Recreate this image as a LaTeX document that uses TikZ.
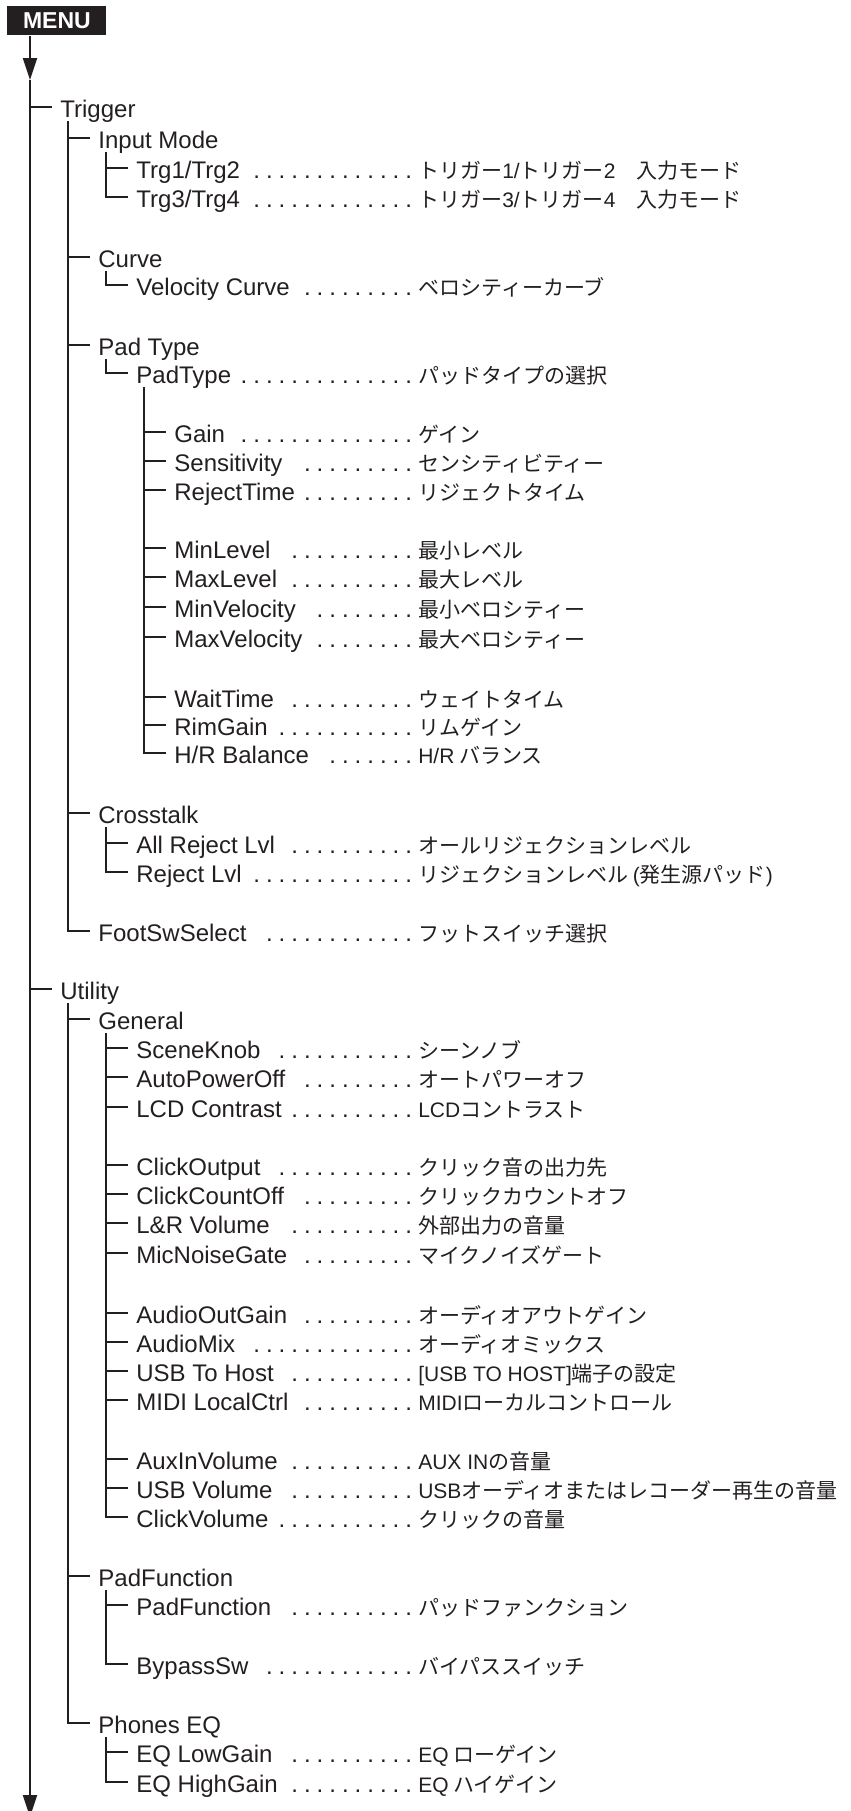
\documentclass[tikz,border=0pt]{standalone}
\usepackage{fontspec}
\setmainfont{Liberation Sans}
\newfontfamily\jpfont{Noto Sans CJK JP}
\newfontfamily\latfont{Liberation Sans}
\usepackage{tikz}
\usetikzlibrary{arrows.meta, positioning}
\definecolor{ink}{RGB}{35,31,32}

% label followed by a dotted leader up to the description column
\newcommand{\leadto}[2]{\hbox to #1{#2\hskip 3pt\leaders\hbox to 6.333pt{\hss.\hss}\hfill}}
\newcommand{\rowtwo}[1]{\leadto{158.33pt}{#1}}
\newcommand{\rowthree}[1]{\leadto{139.33pt}{#1}}
\newcommand{\rowfour}[1]{\leadto{120.33pt}{#1}}
\newcommand{\ltn}[1]{{\latfont #1}}

\begin{document}
\begin{tikzpicture}[
  x=0.5pt, y=-0.5pt,
  node distance=1.2pt,
  entry/.style={anchor=west, inner sep=0pt, text height=11pt,
    text depth=1pt, text=ink, font=\fontsize{12}{14}\selectfont},
  desc/.style={inner sep=0pt, text height=11pt, text depth=1pt,
    text=ink, font=\jpfont\fontsize{10.5}{12}\selectfont},
  menubox/.style={anchor=north west, fill=ink, text=white,
    minimum width=49.5pt, minimum height=14.5pt, inner sep=0pt,
    font=\bfseries\fontsize{11.5}{12}\selectfont},
  branch/.style={draw=ink, line width=0.8pt, shorten >=4pt},
  trunk/.style={draw=ink, line width=0.9pt,
    -{Triangle[width=7pt,length=11pt]}}
]
\useasboundingbox (0,0) rectangle (851,1811);

% Menu head and main line
\node[menubox] (menu) at (7,6) {MENU};
\coordinate (t0) at ([xshift=11.5pt]menu.south west);
\coordinate (tarr) at (30,80);
\coordinate (tend) at (30,1817);
\draw[trunk] (t0) -- (tarr);
\draw[trunk] (tarr) -- (tend);

% Top level
\node[entry] (trig) at (60,107) {Trigger};
\node[entry] (util) at (60,989) {Utility};
\foreach \c in {trig,util}
  \draw[branch] (t0 |- \c.west) -- (\c.west);

% Trigger
\node[entry] (inmode) at (98,138) {Input Mode};
\node[entry] (curve) at (98,257) {Curve};
\node[entry] (ptype) at (98,345) {Pad Type};
\node[entry] (xtalk) at (98,813) {Crosstalk};
\node[entry] (footsw) at (98,931) {\rowtwo{FootSwSelect}};
\node[desc, right=of footsw] {フットスイッチ選択};

\coordinate (vT) at ([xshift=4pt,yshift=-7pt]trig.west);
\draw[branch] (vT) |- (footsw.west);
\foreach \c in {inmode,curve,ptype,xtalk}
  \draw[branch] (vT |- \c.west) -- (\c.west);

% Input Mode
\node[entry] (trgA) at (136,168) {\rowthree{Trg1/Trg2}};
\node[desc, right=of trgA] {トリガー\ltn{1/}トリガー\ltn{2}　入力モード};
\node[entry] (trgB) at (136,197) {\rowthree{Trg3/Trg4}};
\node[desc, right=of trgB] {トリガー\ltn{3/}トリガー\ltn{4}　入力モード};

\coordinate (vI) at ([xshift=4pt,yshift=-7pt]inmode.west);
\draw[branch] (vI) |- (trgB.west);
\draw[branch] (vI |- trgA.west) -- (trgA.west);

% Curve
\node[entry] (velcrv) at (136,285) {\rowthree{Velocity Curve}};
\node[desc, right=of velcrv] {ベロシティーカーブ};
\draw[branch] ([xshift=4pt,yshift=-7pt]curve.west) |- (velcrv.west);

% Pad Type
\node[entry] (padtype) at (136,373) {\rowthree{PadType}};
\node[desc, right=of padtype] {パッドタイプの選択};
\draw[branch] ([xshift=4pt,yshift=-7pt]ptype.west) |- (padtype.west);

\node[entry] (gain) at (174,432) {\rowfour{Gain}};
\node[desc, right=of gain] {ゲイン};
\node[entry] (sens) at (174,461) {\rowfour{Sensitivity}};
\node[desc, right=of sens] {センシティビティー};
\node[entry] (rejtime) at (174,490) {\rowfour{RejectTime}};
\node[desc, right=of rejtime] {リジェクトタイム};
\node[entry] (minlvl) at (174,548) {\rowfour{MinLevel}};
\node[desc, right=of minlvl] {最小レベル};
\node[entry] (maxlvl) at (174,577) {\rowfour{MaxLevel}};
\node[desc, right=of maxlvl] {最大レベル};
\node[entry] (minvel) at (174,607) {\rowfour{MinVelocity}};
\node[desc, right=of minvel] {最小ベロシティー};
\node[entry] (maxvel) at (174,637) {\rowfour{MaxVelocity}};
\node[desc, right=of maxvel] {最大ベロシティー};
\node[entry] (wait) at (174,697) {\rowfour{WaitTime}};
\node[desc, right=of wait] {ウェイトタイム};
\node[entry] (rimgain) at (174,725) {\rowfour{RimGain}};
\node[desc, right=of rimgain] {リムゲイン};
\node[entry] (hrbal) at (174,753) {\rowfour{H/R Balance}};
\node[desc, right=of hrbal] {\ltn{H/R} バランス};

\coordinate (vPT) at ([xshift=4pt,yshift=-7pt]padtype.west);
\draw[branch] (vPT) |- (hrbal.west);
\foreach \c in {gain,sens,rejtime,minlvl,maxlvl,minvel,maxvel,wait,rimgain}
  \draw[branch] (vPT |- \c.west) -- (\c.west);

% Crosstalk
\node[entry] (allrej) at (136,843) {\rowthree{All Reject Lvl}};
\node[desc, right=of allrej] {オールリジェクションレベル};
\node[entry] (rejlvl) at (136,872) {\rowthree{Reject Lvl}};
\node[desc, right=of rejlvl] {リジェクションレベル \ltn{(}発生源パッド\ltn{)}};

\coordinate (vX) at ([xshift=4pt,yshift=-7pt]xtalk.west);
\draw[branch] (vX) |- (rejlvl.west);
\draw[branch] (vX |- allrej.west) -- (allrej.west);

% Utility
\node[entry] (general) at (98,1019) {General};
\node[entry] (padfn) at (98,1576) {PadFunction};
\node[entry] (phones) at (98,1723) {Phones EQ};

\coordinate (vU) at ([xshift=4pt,yshift=-7pt]util.west);
\draw[branch] (vU) |- (phones.west);
\foreach \c in {general,padfn}
  \draw[branch] (vU |- \c.west) -- (\c.west);

% General
\node[entry] (scene) at (136,1048) {\rowthree{SceneKnob}};
\node[desc, right=of scene] {シーンノブ};
\node[entry] (autopwr) at (136,1077) {\rowthree{AutoPowerOff}};
\node[desc, right=of autopwr] {オートパワーオフ};
\node[entry] (lcd) at (136,1107) {\rowthree{LCD Contrast}};
\node[desc, right=of lcd] {\ltn{LCD}コントラスト};
\node[entry] (clkout) at (136,1165) {\rowthree{ClickOutput}};
\node[desc, right=of clkout] {クリック音の出力先};
\node[entry] (clkcnt) at (136,1194) {\rowthree{ClickCountOff}};
\node[desc, right=of clkcnt] {クリックカウントオフ};
\node[entry] (lrvol) at (136,1223) {\rowthree{L\&R Volume}};
\node[desc, right=of lrvol] {外部出力の音量};
\node[entry] (micng) at (136,1253) {\rowthree{MicNoiseGate}};
\node[desc, right=of micng] {マイクノイズゲート};
\node[entry] (aogain) at (136,1313) {\rowthree{AudioOutGain}};
\node[desc, right=of aogain] {オーディオアウトゲイン};
\node[entry] (amix) at (136,1342) {\rowthree{AudioMix}};
\node[desc, right=of amix] {オーディオミックス};
\node[entry] (usbhost) at (136,1371) {\rowthree{USB To Host}};
\node[desc, right=of usbhost] {\ltn{[USB TO HOST]}端子の設定};
\node[entry] (midilc) at (136,1400) {\rowthree{MIDI LocalCtrl}};
\node[desc, right=of midilc] {\ltn{MIDI}ローカルコントロール};
\node[entry] (auxin) at (136,1459) {\rowthree{AuxInVolume}};
\node[desc, right=of auxin] {\ltn{AUX IN}の音量};
\node[entry] (usbvol) at (136,1488) {\rowthree{USB Volume}};
\node[desc, right=of usbvol] {\ltn{USB}オーディオまたはレコーダー再生の音量};
\node[entry] (clkvol) at (136,1517) {\rowthree{ClickVolume}};
\node[desc, right=of clkvol] {クリックの音量};

\coordinate (vG) at ([xshift=4pt,yshift=-7pt]general.west);
\draw[branch] (vG) |- (clkvol.west);
\foreach \c in {scene,autopwr,lcd,clkout,clkcnt,lrvol,micng,aogain,amix,usbhost,midilc,auxin,usbvol}
  \draw[branch] (vG |- \c.west) -- (\c.west);

% PadFunction
\node[entry] (padfnB) at (136,1605) {\rowthree{PadFunction}};
\node[desc, right=of padfnB] {パッドファンクション};
\node[entry] (bypass) at (136,1664) {\rowthree{BypassSw}};
\node[desc, right=of bypass] {バイパススイッチ};

\coordinate (vF) at ([xshift=4pt,yshift=-7pt]padfn.west);
\draw[branch] (vF) |- (bypass.west);
\draw[branch] (vF |- padfnB.west) -- (padfnB.west);

% Phones EQ
\node[entry] (eqlow) at (136,1752) {\rowthree{EQ LowGain}};
\node[desc, right=of eqlow] {\ltn{EQ} ローゲイン};
\node[entry] (eqhigh) at (136,1782) {\rowthree{EQ HighGain}};
\node[desc, right=of eqhigh] {\ltn{EQ} ハイゲイン};

\coordinate (vE) at ([xshift=4pt,yshift=-7pt]phones.west);
\draw[branch] (vE) |- (eqhigh.west);
\draw[branch] (vE |- eqlow.west) -- (eqlow.west);
\end{tikzpicture}
\end{document}
